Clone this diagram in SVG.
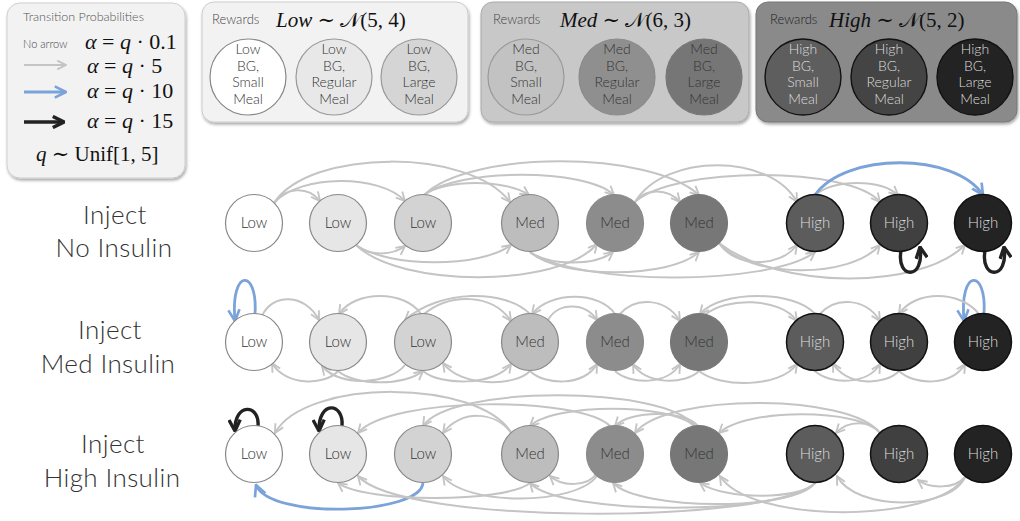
<svg xmlns="http://www.w3.org/2000/svg" width="1020" height="521" viewBox="0 0 1020 521">
<style>
.sans{font-family:"Lato","Liberation Sans",sans-serif;font-weight:300}
.math{font-family:"Liberation Serif","DejaVu Serif",serif;fill:#111}
.it{font-style:italic}
.box{filter:url(#sh)}
.nl{font-family:"Lato","Liberation Sans",sans-serif;font-weight:300;font-size:15px;text-anchor:middle;fill:#333}
.nh{fill:#ddd}
.rl{font-family:"Lato","Liberation Sans",sans-serif;font-weight:300;font-size:14px;text-anchor:middle;fill:#333}
.rh{fill:#ddd}
.g{fill:none;stroke:#c4c4c4;stroke-width:2;marker-end:url(#ag)}
.b{fill:none;stroke:#7ba3d9;stroke-width:2.8;marker-end:url(#ab)}
.k{fill:none;stroke:#222;stroke-width:3.4;marker-end:url(#ak)}
.lab{font-family:"Lato","Liberation Sans",sans-serif;font-weight:300;font-size:26px;letter-spacing:0.4px;text-anchor:middle;fill:#333}
</style>
<defs>
<filter id="sh" x="-10%" y="-10%" width="120%" height="130%"><feDropShadow dx="1" dy="2" stdDeviation="1.8" flood-color="#000" flood-opacity="0.35"/></filter>
<marker id="ag" viewBox="0 0 10 10" refX="9" refY="5" markerWidth="11" markerHeight="11" markerUnits="userSpaceOnUse" orient="auto"><path d="M1,1 L9,5 L1,9" fill="none" stroke="#c4c4c4" stroke-width="1.7"/></marker>
<marker id="ab" viewBox="0 0 10 10" refX="9" refY="5" markerWidth="14" markerHeight="14" markerUnits="userSpaceOnUse" orient="auto"><path d="M1,1 L9,5 L1,9" fill="none" stroke="#7ba3d9" stroke-width="1.9"/></marker>
<marker id="ak" viewBox="0 0 10 10" refX="9" refY="5" markerWidth="14" markerHeight="14" markerUnits="userSpaceOnUse" orient="auto"><path d="M1,1 L9,5 L1,9" fill="none" stroke="#222" stroke-width="2.4"/></marker>
</defs>
<rect width="1020" height="521" fill="#fff"/>

<g id="legend">
<rect class="box" x="7" y="3" width="178" height="175" rx="13" fill="#f2f2f2" stroke="#cfcfcf"/>
<text class="sans" x="23" y="21" font-size="12.5" fill="#555">Transition Probabilities</text>
<text class="sans" x="23" y="48" font-size="11" fill="#444">No arrow</text>
<text class="math" x="85" y="49" font-size="22"><tspan class="it">α</tspan> = <tspan class="it">q</tspan> · 0.1</text>
<line class="g" x1="24" y1="65" x2="66" y2="65"/>
<text class="math" x="87" y="73" font-size="22"><tspan class="it">α</tspan> = <tspan class="it">q</tspan> · 5</text>
<line class="b" x1="24" y1="92" x2="66" y2="92"/>
<text class="math" x="87" y="98" font-size="22"><tspan class="it">α</tspan> = <tspan class="it">q</tspan> · 10</text>
<line class="k" x1="24" y1="122" x2="64" y2="122"/>
<text class="math" x="87" y="128" font-size="22"><tspan class="it">α</tspan> = <tspan class="it">q</tspan> · 15</text>
<text class="math" x="36" y="161" font-size="21"><tspan class="it">q</tspan> ∼ Unif[1, 5]</text>
</g>

<g id="rewards-low">
<rect class="box" x="202" y="2" width="266" height="120" rx="12" fill="#f2f2f2" stroke="#cccccc"/>
<text class="sans" x="212" y="24" font-size="13" fill="#444">Rewards</text>
<text class="math" x="276" y="27" font-size="21"><tspan class="it">Low</tspan> ∼ 𝒩(5, 4)</text>
<circle cx="248" cy="77" r="38" fill="#fff" stroke="#888" stroke-width="1.2"/>
<text class="rl" x="248"><tspan x="248" y="54">Low</tspan><tspan x="248" y="70.5">BG,</tspan><tspan x="248" y="87">Small</tspan><tspan x="248" y="103.5">Meal</tspan></text>
<circle cx="334" cy="77" r="38" fill="#e8e8e8" stroke="#999" stroke-width="1.2"/>
<text class="rl" x="334"><tspan x="334" y="54">Low</tspan><tspan x="334" y="70.5">BG,</tspan><tspan x="334" y="87">Regular</tspan><tspan x="334" y="103.5">Meal</tspan></text>
<circle cx="419" cy="77" r="38" fill="#d5d5d5" stroke="#999" stroke-width="1.2"/>
<text class="rl" x="419"><tspan x="419" y="54">Low</tspan><tspan x="419" y="70.5">BG,</tspan><tspan x="419" y="87">Large</tspan><tspan x="419" y="103.5">Meal</tspan></text>
</g>

<g id="rewards-med">
<rect class="box" x="481" y="2" width="268" height="120" rx="12" fill="#c8c8c8" stroke="#aaaaaa"/>
<text class="sans" x="493" y="24" font-size="13" fill="#444">Rewards</text>
<text class="math" x="560" y="27" font-size="21"><tspan class="it">Med</tspan> ∼ 𝒩(6, 3)</text>
<circle cx="526" cy="77" r="38" fill="#c2c2c2" stroke="#999" stroke-width="1.2"/>
<text class="rl" x="526"><tspan x="526" y="54">Med</tspan><tspan x="526" y="70.5">BG,</tspan><tspan x="526" y="87">Small</tspan><tspan x="526" y="103.5">Meal</tspan></text>
<circle cx="617" cy="77" r="38" fill="#8f8f8f" stroke="#8a8a8a" stroke-width="1.2"/>
<text class="rl" x="617"><tspan x="617" y="54">Med</tspan><tspan x="617" y="70.5">BG,</tspan><tspan x="617" y="87">Regular</tspan><tspan x="617" y="103.5">Meal</tspan></text>
<circle cx="704" cy="77" r="38" fill="#767676" stroke="#777" stroke-width="1.2"/>
<text class="rl" x="704"><tspan x="704" y="54">Med</tspan><tspan x="704" y="70.5">BG,</tspan><tspan x="704" y="87">Large</tspan><tspan x="704" y="103.5">Meal</tspan></text>
</g>

<g id="rewards-high">
<rect class="box" x="756" y="2" width="261" height="120" rx="12" fill="#8a8a8a" stroke="#777"/>
<text class="sans" x="770" y="24" font-size="13" fill="#222">Rewards</text>
<text class="math" x="829" y="27" font-size="21"><tspan class="it">High</tspan> ∼ 𝒩(5, 2)</text>
<circle cx="803" cy="77" r="38" fill="#5e5e5e" stroke="#111" stroke-width="1.4"/>
<text class="rl rh" x="803"><tspan x="803" y="54">High</tspan><tspan x="803" y="70.5">BG,</tspan><tspan x="803" y="87">Small</tspan><tspan x="803" y="103.5">Meal</tspan></text>
<circle cx="889" cy="77" r="38" fill="#444" stroke="#111" stroke-width="1.4"/>
<text class="rl rh" x="889"><tspan x="889" y="54">High</tspan><tspan x="889" y="70.5">BG,</tspan><tspan x="889" y="87">Regular</tspan><tspan x="889" y="103.5">Meal</tspan></text>
<circle cx="975" cy="77" r="38" fill="#232323" stroke="#111" stroke-width="1.4"/>
<text class="rl rh" x="975"><tspan x="975" y="54">High</tspan><tspan x="975" y="70.5">BG,</tspan><tspan x="975" y="87">Large</tspan><tspan x="975" y="103.5">Meal</tspan></text>
</g>

<g id="row-labels">
<text class="lab"><tspan x="115" y="224">Inject</tspan><tspan x="114" y="257">No Insulin</tspan></text>
<text class="lab"><tspan x="110" y="339">Inject</tspan><tspan x="108" y="373">Med Insulin</tspan></text>
<text class="lab"><tspan x="113" y="453">Inject</tspan><tspan x="112" y="487">High Insulin</tspan></text>
</g>

<g id="connectors">
<path class="g" d="M274,203 C285,187 308,186 320,201"/>
<path class="g" d="M274,203 C300,174 380,174 405,201"/>
<path class="g" d="M274,203 C310,148 470,148 510,202"/>
<path class="g" d="M424,195 C445,179 505,179 529,195"/>
<path class="g" d="M424,195 C460,168 585,168 614,195"/>
<path class="g" d="M424,195 C470,150 650,150 699,195"/>
<path class="g" d="M635,202 C645,188 668,188 680,202"/>
<path class="g" d="M635,202 C665,153 770,153 797,202"/>
<path class="g" d="M635,202 C675,166 850,166 880,202"/>
<path class="g" d="M815,195 C835,179 880,179 898,195"/>
<path class="b" d="M815,195 C845,152 955,152 983,195"/>
<path class="g" d="M356,245 C368,256 392,256 405,246"/>
<path class="g" d="M356,245 C390,268 480,268 511,245"/>
<path class="g" d="M356,245 C400,288 560,288 597,244"/>
<path class="g" d="M530,252 C550,266 595,266 613,252"/>
<path class="g" d="M530,252 C560,279 670,279 699,252"/>
<path class="g" d="M530,252 C580,286 770,286 815,252"/>
<path class="g" d="M719,243 C735,268 780,268 797,245"/>
<path class="g" d="M719,243 C750,279 850,279 880,245"/>
<path class="g" d="M719,243 C780,290 920,290 965,245"/>
<path class="k" d="M901,251 C896,279 925,281 920,247"/>
<path class="k" d="M985,251 C980,279 1009,281 1004,247"/>
<path class="b" d="M255,314 C258,268 230,268 235,321"/>
<path class="b" d="M984,314 C987,268 959,268 964,321"/>
<path class="g" d="M262,316 C272,293 305,293 319,320"/>
<path class="g" d="M421,314 C405,290 355,290 339,314"/>
<path class="g" d="M424,314 C450,293 492,293 511,321"/>
<path class="g" d="M530,314 C505,289 440,289 405,320"/>
<path class="g" d="M615,314 C600,291 550,291 532,314"/>
<path class="g" d="M548,320 C558,302 585,302 597,320"/>
<path class="g" d="M620,314 C635,297 665,297 680,321"/>
<path class="g" d="M815,314 C795,290 720,290 700,314"/>
<path class="g" d="M705,315 C725,297 780,297 797,321"/>
<path class="g" d="M820,314 C835,297 865,297 880,321"/>
<path class="g" d="M979,314 C960,290 915,290 899,314"/>
<path class="g" d="M338,371 C325,386 285,386 272,363"/>
<path class="g" d="M338,371 C355,386 405,386 423,371"/>
<path class="g" d="M405,365 C390,384 340,388 322,366"/>
<path class="g" d="M530,371 C515,387 460,387 443,363"/>
<path class="g" d="M423,371 C440,386 495,386 511,364"/>
<path class="g" d="M530,371 C545,386 585,386 597,364"/>
<path class="g" d="M699,371 C685,385 645,385 633,364"/>
<path class="g" d="M615,371 C630,385 668,385 680,364"/>
<path class="g" d="M699,371 C720,388 780,388 797,364"/>
<path class="g" d="M815,371 C830,385 868,385 880,364"/>
<path class="g" d="M899,371 C885,386 845,386 833,363"/>
<path class="g" d="M899,371 C915,386 952,386 965,364"/>
<path class="k" d="M258,426 C260,404 234,402 235,431"/>
<path class="k" d="M342,426 C344,402 318,400 319,431"/>
<path class="g" d="M512,434 C480,378 305,378 275,433"/>
<path class="g" d="M512,434 C495,410 460,410 443,433"/>
<path class="g" d="M610,426 C580,396 390,396 358,433"/>
<path class="g" d="M695,426 C665,385 450,385 423,426"/>
<path class="g" d="M694,426 C670,403 555,403 530,426"/>
<path class="g" d="M698,426 C685,410 630,410 615,426"/>
<path class="g" d="M880,433 C850,393 665,393 635,433"/>
<path class="g" d="M880,433 C860,408 745,408 719,433"/>
<path class="g" d="M880,433 C870,420 848,420 836,433"/>
<path class="b" d="M423,483 C420,515 270,520 256,485"/>
<path class="g" d="M530,483 C505,503 365,503 338,483"/>
<path class="g" d="M597,476 C575,506 465,506 443,476"/>
<path class="g" d="M815,483 C770,525 400,525 358,476"/>
<path class="g" d="M597,473 C588,487 562,487 550,476"/>
<path class="g" d="M815,483 C790,516 560,516 530,483"/>
<path class="g" d="M815,483 C795,511 640,511 613,483"/>
<path class="g" d="M815,483 C800,500 725,500 700,483"/>
<path class="g" d="M965,477 C955,489 930,489 918,480"/>
<path class="g" d="M965,477 C950,511 855,511 837,476"/>
<path class="g" d="M965,477 C935,524 750,524 720,476"/>
</g>

<g id="r1-low1"><circle cx="254" cy="223" r="28.5" fill="#fff" stroke="#888" stroke-width="1.2"/><text class="nl" x="254" y="228">Low</text></g>
<g id="r1-low2"><circle cx="338" cy="223" r="28.5" fill="#e6e6e6" stroke="#888" stroke-width="1.2"/><text class="nl" x="338" y="228">Low</text></g>
<g id="r1-low3"><circle cx="423" cy="223" r="28.5" fill="#d3d3d3" stroke="#888" stroke-width="1.2"/><text class="nl" x="423" y="228">Low</text></g>
<g id="r1-med1"><circle cx="530" cy="223" r="28.5" fill="#bdbdbd" stroke="#888" stroke-width="1.2"/><text class="nl" x="530" y="228">Med</text></g>
<g id="r1-med2"><circle cx="615" cy="223" r="28.5" fill="#8c8c8c" stroke="#8a8a8a" stroke-width="1.2"/><text class="nl" x="615" y="228">Med</text></g>
<g id="r1-med3"><circle cx="699" cy="223" r="28.5" fill="#777" stroke="#777" stroke-width="1.2"/><text class="nl" x="699" y="228">Med</text></g>
<g id="r1-high1"><circle cx="815" cy="223" r="28.5" fill="#5c5c5c" stroke="#111" stroke-width="1.5"/><text class="nl nh" x="815" y="228">High</text></g>
<g id="r1-high2"><circle cx="899" cy="223" r="28.5" fill="#404040" stroke="#111" stroke-width="1.5"/><text class="nl nh" x="899" y="228">High</text></g>
<g id="r1-high3"><circle cx="983" cy="223" r="28.5" fill="#232323" stroke="#111" stroke-width="1.5"/><text class="nl nh" x="983" y="228">High</text></g>

<g id="r2-low1"><circle cx="254" cy="342" r="28.5" fill="#fff" stroke="#888" stroke-width="1.2"/><text class="nl" x="254" y="347">Low</text></g>
<g id="r2-low2"><circle cx="338" cy="342" r="28.5" fill="#e6e6e6" stroke="#888" stroke-width="1.2"/><text class="nl" x="338" y="347">Low</text></g>
<g id="r2-low3"><circle cx="423" cy="342" r="28.5" fill="#d3d3d3" stroke="#888" stroke-width="1.2"/><text class="nl" x="423" y="347">Low</text></g>
<g id="r2-med1"><circle cx="530" cy="342" r="28.5" fill="#bdbdbd" stroke="#888" stroke-width="1.2"/><text class="nl" x="530" y="347">Med</text></g>
<g id="r2-med2"><circle cx="615" cy="342" r="28.5" fill="#8c8c8c" stroke="#8a8a8a" stroke-width="1.2"/><text class="nl" x="615" y="347">Med</text></g>
<g id="r2-med3"><circle cx="699" cy="342" r="28.5" fill="#777" stroke="#777" stroke-width="1.2"/><text class="nl" x="699" y="347">Med</text></g>
<g id="r2-high1"><circle cx="815" cy="342" r="28.5" fill="#5c5c5c" stroke="#111" stroke-width="1.5"/><text class="nl nh" x="815" y="347">High</text></g>
<g id="r2-high2"><circle cx="899" cy="342" r="28.5" fill="#404040" stroke="#111" stroke-width="1.5"/><text class="nl nh" x="899" y="347">High</text></g>
<g id="r2-high3"><circle cx="983" cy="342" r="28.5" fill="#232323" stroke="#111" stroke-width="1.5"/><text class="nl nh" x="983" y="347">High</text></g>

<g id="r3-low1"><circle cx="254" cy="454" r="28.5" fill="#fff" stroke="#888" stroke-width="1.2"/><text class="nl" x="254" y="459">Low</text></g>
<g id="r3-low2"><circle cx="338" cy="454" r="28.5" fill="#e6e6e6" stroke="#888" stroke-width="1.2"/><text class="nl" x="338" y="459">Low</text></g>
<g id="r3-low3"><circle cx="423" cy="454" r="28.5" fill="#d3d3d3" stroke="#888" stroke-width="1.2"/><text class="nl" x="423" y="459">Low</text></g>
<g id="r3-med1"><circle cx="530" cy="454" r="28.5" fill="#bdbdbd" stroke="#888" stroke-width="1.2"/><text class="nl" x="530" y="459">Med</text></g>
<g id="r3-med2"><circle cx="615" cy="454" r="28.5" fill="#8c8c8c" stroke="#8a8a8a" stroke-width="1.2"/><text class="nl" x="615" y="459">Med</text></g>
<g id="r3-med3"><circle cx="699" cy="454" r="28.5" fill="#777" stroke="#777" stroke-width="1.2"/><text class="nl" x="699" y="459">Med</text></g>
<g id="r3-high1"><circle cx="815" cy="454" r="28.5" fill="#5c5c5c" stroke="#111" stroke-width="1.5"/><text class="nl nh" x="815" y="459">High</text></g>
<g id="r3-high2"><circle cx="899" cy="454" r="28.5" fill="#404040" stroke="#111" stroke-width="1.5"/><text class="nl nh" x="899" y="459">High</text></g>
<g id="r3-high3"><circle cx="983" cy="454" r="28.5" fill="#232323" stroke="#111" stroke-width="1.5"/><text class="nl nh" x="983" y="459">High</text></g>
</svg>
